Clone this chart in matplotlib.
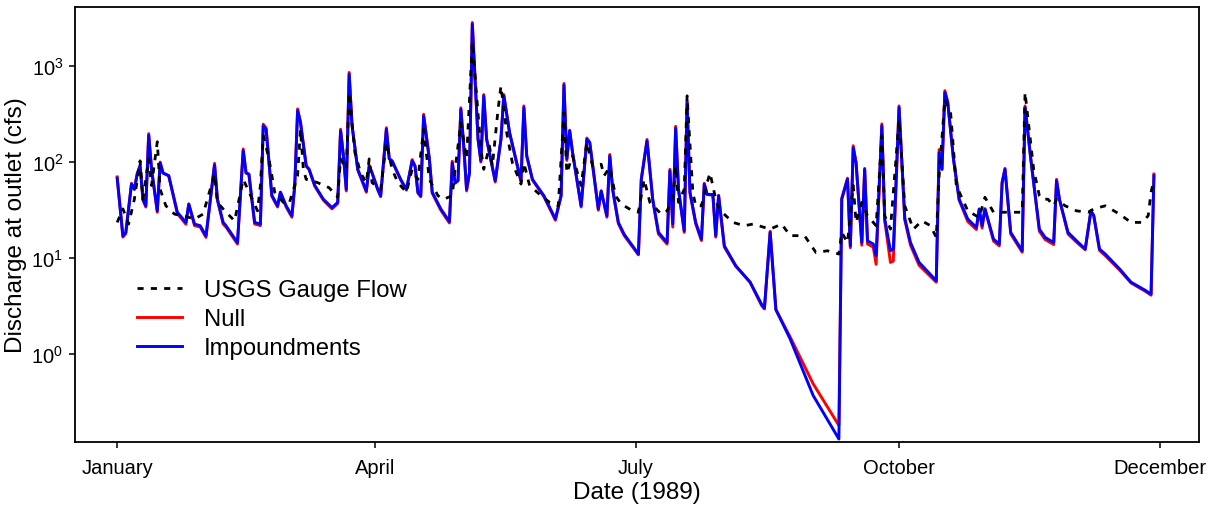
import numpy as np
import pandas as pd
import matplotlib
matplotlib.use("Agg")
import matplotlib.pyplot as plt
from matplotlib.ticker import LogLocator, NullLocator

plt.rcParams['font.family'] = ['Liberation Sans', 'DejaVu Sans']
plt.rcParams['mathtext.fontset'] = 'custom'
plt.rcParams['mathtext.rm'] = 'Liberation Sans'

# days after 1 Jan 1989, discharge in cfs
model_days = [0, 2, 3, 5, 6, 7, 8, 9, 10, 11, 12, 14, 15, 16, 18, 21, 24, 25, 27, 29, 31, 34, 35, 37, 38,
              42, 44, 45, 46, 48, 50, 51, 52, 54, 56, 57, 59, 61, 62, 63, 64, 66, 67, 69, 72, 75, 77, 78,
              79, 80, 81, 82, 84, 87, 88, 89, 91, 92, 94, 95, 96, 99, 101, 103, 104, 105, 106, 107, 109,
              110, 113, 116, 117, 118, 119, 120, 121, 122, 123, 124, 125, 126, 127, 128, 129, 132, 134,
              135, 137, 141, 142, 143, 145, 149, 153, 155, 156, 157, 158, 159, 162, 164, 165, 168, 169,
              171, 172, 173, 174, 175, 177, 182, 183, 185, 187, 189, 192, 193, 194, 195, 196, 198, 199,
              200, 202, 204, 205, 206, 208, 209, 210, 212, 216, 221, 225, 226, 228, 230, 235, 243, 252,
              253, 255, 256, 257, 258, 260, 261, 262, 264, 265, 267, 268, 270, 271, 273, 275, 277, 280,
              286, 287, 288, 289, 290, 292, 294, 297, 300, 301, 302, 303, 306, 308, 309, 310, 312, 316,
              317, 319, 322, 324, 327, 328, 329, 332, 335, 338, 340, 341, 343, 345, 350, 354, 359, 361, 362]

impound_flow = [68, 17, 18.5, 59, 52, 75, 91, 41, 35, 190, 84, 31, 98, 77, 72, 30, 23.5, 36.5, 22.6, 21.7, 17, 93, 41, 23.5, 21.7,
                14.5, 131, 77, 75, 23.5, 22.6, 239, 220, 45, 35, 48.5, 35, 27.6, 57, 343, 258, 91, 84, 57, 41, 33.5, 38, 211,
                116, 52, 826, 239, 84, 50, 91, 77, 52, 44.6, 220, 108, 103, 66, 52, 103, 91, 48.5, 44.6, 302, 108,
                48.5, 32.5, 24, 98, 61, 64, 355, 147, 52, 77, 2740, 672, 173, 103, 490, 173, 64, 173,
                490, 203, 64, 370, 116, 66, 44.6, 25.5, 44.6, 635, 108, 211, 126, 35, 173, 160, 32.5, 50,
                27.6, 116, 52, 35, 23.5, 17.7, 11, 66, 166, 41, 18.5, 14.5, 81, 22.6, 226, 52, 19.2, 417,
                48.5, 23.5, 15.7, 59, 46, 46, 17.1, 44.6, 13.4, 8.3, 5.6, 3.3, 3.0, 18.5, 2.9, 1.43, 0.37, 0.13,
                41, 66, 13.4, 141, 98, 14.5, 84, 15.1, 14, 10.6, 239, 25.5, 11.9, 12.4, 370, 26, 14.5, 9,
                5.8, 126, 84, 532, 417, 108, 41, 25.5, 20.8, 32.5, 21.7, 32.5, 15.7, 14, 61, 84, 18.5, 11.9,
                370, 108, 20, 16.4, 14.5, 64, 41, 18.5, 15.1, 12.4, 31, 27.6, 12.4, 11, 7.7, 5.6, 4.6, 4.2, 72]

null_flow = [70, 16.5, 18, 60, 52, 76, 93, 40, 34, 198, 85, 30, 100, 77, 72, 29, 22.5, 36.5, 21.8, 21, 16.4, 97, 40, 22.6, 21,
             14, 137, 77, 74, 22.6, 21.8, 248, 226, 44, 34, 48.5, 34, 26.6, 57, 358, 262, 91, 84, 56, 40, 32.5, 37, 220,
             116, 50, 860, 245, 83, 48.5, 93, 77, 51, 43.5, 228, 108, 102, 65, 51, 106, 91, 47.5, 43.5, 315, 108,
             47.5, 31.5, 23.2, 102, 60, 64, 368, 148, 50, 77, 2850, 690, 173, 100, 505, 173, 62, 173,
             505, 203, 62, 385, 116, 65, 43.5, 24.8, 44.6, 660, 104, 215, 126, 34, 178, 160, 31.5, 50,
             26.6, 120, 52, 34, 22.8, 17.2, 10.8, 66, 172, 40, 17.8, 14, 84, 21, 236, 51, 18.5, 435,
             47.5, 22.8, 15.2, 60, 46, 45, 16.5, 45, 13, 8.2, 5.6, 3.2, 2.95, 19, 2.9, 1.5, 0.49, 0.18,
             42, 68, 12.8, 148, 98, 13.6, 86, 14, 13, 8.6, 250, 24.5, 9.0, 9.3, 385, 25, 13.6, 8.4,
             5.6, 135, 84, 555, 425, 108, 40, 24, 19.8, 32, 20.5, 32.5, 15, 13.4, 62, 86, 17.8, 11.5,
             385, 108, 19, 15.6, 13.8, 66, 41, 17.8, 14.6, 12.2, 31, 27.6, 12, 10.6, 7.5, 5.5, 4.5, 4.1, 75]

usgs_days = [0, 2, 4, 6, 8, 9, 11, 12, 14, 15, 17, 20, 23, 27, 30, 34, 35, 38, 41, 44, 45, 49, 50, 51, 53, 55,
             58, 60, 63, 64, 65, 66, 70, 74, 77, 78, 80, 81, 83, 85, 87, 88, 89, 92, 94, 96, 98, 101, 103,
             105, 107, 109, 112, 114, 117, 118, 120, 122, 124, 127, 128, 130, 131, 133, 134, 136, 138, 141,
             142, 144, 148, 151, 154, 156, 157, 159, 162, 164, 166, 169, 170, 172, 174, 176, 180, 182, 184,
             186, 190, 192, 194, 195, 196, 198, 199, 201, 202, 204, 206, 207, 209, 210, 215, 219, 222, 224,
             228, 232, 235, 240, 244, 248, 252, 253, 255, 257, 258, 260, 262, 265, 267, 268, 270, 273, 275,
             278, 281, 284, 286, 287, 289, 291, 293, 297, 301, 303, 306, 310, 314, 316, 317, 320, 322, 323,
             325, 327, 328, 331, 335, 339, 341, 345, 350, 354, 358, 360, 361, 362]

usgs_flow = [23.5, 32.5, 22.6, 41, 103, 41, 108, 57, 163, 52, 35, 28.7, 27.6, 25.5, 28.7, 75, 38, 30, 24.4, 66, 57, 31, 57, 188, 108, 48.5,
             38, 36.5, 72, 220, 84, 66, 61, 54, 43, 108, 84, 532, 126, 77, 61, 108, 61, 52, 160, 84, 61, 48.5, 84,
             66, 220, 66, 44.6, 41, 44.6, 84, 258, 108, 1800, 136, 84, 147, 91, 355, 620, 203, 98, 59,
             98, 57, 44.6, 38, 35, 330, 77, 116, 57, 160, 91, 95, 72, 88, 44.6, 36.5, 31, 30, 66,
             38, 28.7, 31, 41, 91, 38, 52, 490, 48.5, 35, 35, 61, 77, 41, 32.5, 23.5, 21.7, 22.6, 21.7,
             20, 22.6, 17.1, 17.1, 11.4, 11.9, 11, 18.5, 14.5, 57, 23.5, 38, 27.6, 21.7, 188, 27.6, 20, 278, 35,
             20, 24.4, 21.7, 16.4, 72, 453, 330, 57, 31, 26.4, 43, 30, 30, 30, 30, 532, 84, 44.6, 41,
             41, 35, 41, 35, 31, 30, 32.5, 35, 28.7, 23.5, 23.5, 27.6, 48.5, 66]

tick_dates = ["1989-01-01", "1989-04-01", "1989-07-01", "1989-10-01", "1989-12-31"]
tick_labels = ["January", "April", "July", "October", "December"]

start = pd.Timestamp("1989-01-01")
model_dates = start + pd.to_timedelta(model_days, unit="D")
usgs_dates = start + pd.to_timedelta(usgs_days, unit="D")

fig = plt.figure(figsize=(12.11, 5.06), dpi=100)
ax = fig.add_axes([0.062, 0.1245, 0.928, 0.8595])

ax.plot(model_dates, null_flow, color="#FF0000", lw=2.1, label="Null", zorder=2)
ax.plot(model_dates, impound_flow, color="#0000FF", lw=2.1, label="Impoundments", zorder=3)
ax.plot(usgs_dates, usgs_flow, color="black", lw=2.0, ls=(0, (2.2, 2.6)), label="USGS Gauge Flow", zorder=4)

ax.set_yscale("log")
ax.set_ylim(0.121, 4120)
ax.yaxis.set_major_locator(LogLocator(base=10, numticks=10))
ax.yaxis.set_minor_locator(NullLocator())

ax.set_xlim(start - pd.Timedelta(days=14.7), start + pd.Timedelta(days=377.7))
ax.set_xticks(pd.to_datetime(tick_dates))
ax.set_xticklabels(tick_labels)

ax.tick_params(axis="both", direction="out", length=4.5, width=1.1, labelsize=14.5, colors="black")
ax.tick_params(axis="x", pad=7)
ax.tick_params(axis="y", pad=4)
for s in ax.spines.values():
    s.set_linewidth(1.3)

ax.set_xlabel("Date (1989)", fontsize=17.5, labelpad=3)
ax.set_ylabel("Discharge at outlet (cfs)", fontsize=17.5, labelpad=3)

handles, labels = ax.get_legend_handles_labels()
order = [2, 0, 1]
ax.legend([handles[i] for i in order], [labels[i] for i in order],
          loc="center left", bbox_to_anchor=(0.055, 0.2825), frameon=False,
          fontsize=17.2, handlelength=1.9, handletextpad=0.9, labelspacing=0.29,
          borderpad=0, borderaxespad=0)

fig.savefig("out.png", dpi=100)
